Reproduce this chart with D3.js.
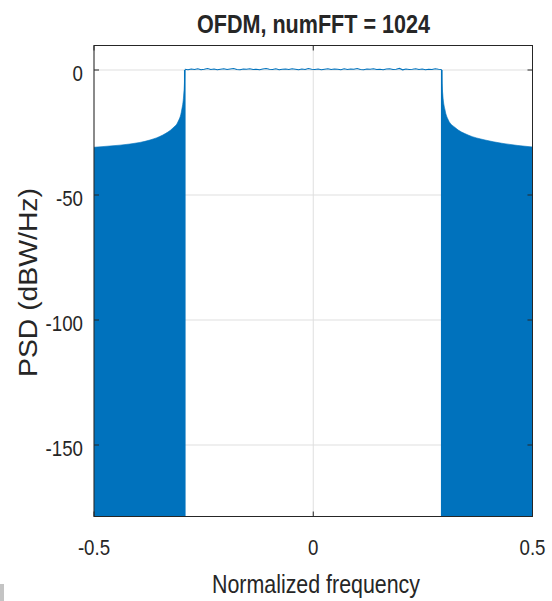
<!DOCTYPE html>
<html>
<head>
<meta charset="utf-8">
<script src="https://cdn.jsdelivr.net/npm/d3@7/dist/d3.min.js"></script>
<style>
  html, body { margin: 0; padding: 0; background: #fff; }
  svg { display: block; }
  text { font-family: "Liberation Sans", Arial, Helvetica, sans-serif; fill: #262626; }
</style>
</head>
<body>
<svg id="chart" width="552" height="601"></svg>
<script>
// ---------- data ----------
const titleText = "OFDM, numFFT = 1024";
const xLabelText = "Normalized frequency";
const yLabelText = "PSD (dBW/Hz)";

const xTicks = [-0.5, 0, 0.5];
const xTickLabels = ["-0.5", "0", "0.5"];
const yTicks = [0, -50, -100, -150];
const yTickLabels = ["0", "-50", "-100", "-150"];
const xDomain = [-0.5, 0.5];
const yDomain = [-178.6, 9.8];

// left out-of-band envelope (frequency, dB)
const leftFreq = [-0.5, -0.4636, -0.418, -0.3724, -0.343, -0.320, -0.3087, -0.300, -0.2955, -0.2935, -0.293];
const leftDb   = [-30.9, -30.4, -29.6, -28.0, -26.0, -23.2, -20.8, -16.0, -10.0, -4.0, 0];

// right out-of-band envelope (frequency, dB)
const rightFreq = [0.293, 0.2935, 0.2955, 0.3005, 0.308, 0.3233, 0.353, 0.3917, 0.4298, 0.5];
const rightDb   = [0, -4.0, -10.0, -16.0, -20.0, -23.0, -26.0, -28.0, -29.3, -30.8];

// occupied band edges and in-band PSD ripple (dB)
const bandEdges = [-0.293, 0.293];
const inbandDb = [0.3, 0.1, 0.4, 0.2, 0.5, 0.1, 0.3, 0.6, 0.2, 0.4,
                  0.1, 0.3, 0.5, 0.2, 0.4, 0.6, 0.2, 0.1, 0.4, 0.3,
                  0.5, 0.2, 0.3, 0.1, 0.4, 0.6, 0.3, 0.2, 0.5, 0.1,
                  0.3, 0.4, 0.2, 0.5, 0.3, 0.1, 0.4, 0.2, 0.6, 0.3,
                  0.2, 0.4, 0.1, 0.3, 0.5, 0.2, 0.4, 0.3, 0.1, 0.5,
                  0.2, 0.4, 0.3, 0.6, 0.2, 0.1, 0.4, 0.3, 0.5, 0.2,
                  0.3, 0.1, 0.4, 0.5, 0.2, 0.3, 0.6, 0.1, 0.4, 0.2,
                  0.3, 0.5, 0.2, 0.4, 0.1, 0.3, 0.2, 0.5, 0.3, 0.2];

// ---------- layout ----------
const plot = { left: 94, right: 532.5, top: 45.5, bottom: 516.5 };
const blue = "#0072BD";
const axisColor = "#262626";
const gridColor = "#dfdfdf";
const condense = 0.85;

const svg = d3.select("#chart");
const x = d3.scaleLinear().domain(xDomain).range([plot.left, plot.right]);
const y = d3.scaleLinear().domain(yDomain).range([plot.bottom, plot.top]);

function squeeze(sel, f) {
  sel.each(function () {
    const len = this.getComputedTextLength();
    d3.select(this).attr("textLength", len * f).attr("lengthAdjust", "spacingAndGlyphs");
  });
}

// grid
const grid = svg.append("g");
grid.selectAll("line.gx").data(xTicks).join("line")
  .attr("x1", d => x(d)).attr("x2", d => x(d))
  .attr("y1", plot.top).attr("y2", plot.bottom)
  .attr("stroke", gridColor).attr("stroke-width", 1);
grid.selectAll("line.gy").data(yTicks).join("line")
  .attr("x1", plot.left).attr("x2", plot.right)
  .attr("y1", d => y(d)).attr("y2", d => y(d))
  .attr("stroke", gridColor).attr("stroke-width", 1);

// data
const leftPts = leftFreq.map((f, i) => [f, leftDb[i]]);
const rightPts = rightFreq.map((f, i) => [f, rightDb[i]]);
const area = d3.area()
  .x(d => x(d[0])).y0(y(yDomain[0])).y1(d => y(d[1]))
  .curve(d3.curveMonotoneX);
const line = d3.line().x(d => x(d[0])).y(d => y(d[1])).curve(d3.curveMonotoneX);

const data = svg.append("g");
[leftPts, rightPts].forEach(pts => {
  data.append("path").attr("d", area(pts)).attr("fill", blue);
  data.append("path").attr("d", line(pts)).attr("fill", "none")
    .attr("stroke", blue).attr("stroke-width", 1).attr("stroke-opacity", 0.6);
});
// band-edge verticals
bandEdges.forEach(f => {
  data.append("line")
    .attr("x1", x(f)).attr("x2", x(f))
    .attr("y1", y(yDomain[0])).attr("y2", y(0))
    .attr("stroke", blue).attr("stroke-width", 1.6);
});
// in-band ripple
const step = (bandEdges[1] - bandEdges[0]) / (inbandDb.length - 1);
const inbandPts = inbandDb.map((v, i) => [bandEdges[0] + i * step, v]);
data.append("path")
  .attr("d", d3.line().x(d => x(d[0])).y(d => y(d[1]))(inbandPts))
  .attr("fill", "none").attr("stroke", blue).attr("stroke-width", 1.2);

// axes box
svg.append("rect")
  .attr("x", plot.left).attr("y", plot.top)
  .attr("width", plot.right - plot.left).attr("height", plot.bottom - plot.top)
  .attr("fill", "none").attr("stroke", axisColor).attr("stroke-width", 1);

// ticks (inward)
const tl = 5;
const tg = svg.append("g").attr("stroke", axisColor).attr("stroke-width", 1);
xTicks.forEach(t => {
  tg.append("line").attr("x1", x(t)).attr("x2", x(t)).attr("y1", plot.bottom).attr("y2", plot.bottom - tl);
  tg.append("line").attr("x1", x(t)).attr("x2", x(t)).attr("y1", plot.top).attr("y2", plot.top + tl);
});
yTicks.forEach(t => {
  tg.append("line").attr("x1", plot.left).attr("x2", plot.left + tl).attr("y1", y(t)).attr("y2", y(t));
  tg.append("line").attr("x1", plot.right).attr("x2", plot.right - tl).attr("y1", y(t)).attr("y2", y(t));
});

// tick labels
const xtl = svg.append("g").selectAll("text").data(xTicks).join("text")
  .attr("x", d => x(d)).attr("y", 555)
  .attr("text-anchor", "middle").attr("font-size", 22)
  .text((d, i) => xTickLabels[i]);
squeeze(xtl, condense);

const ytl = svg.append("g").selectAll("text").data(yTicks).join("text")
  .attr("x", 83).attr("y", d => y(d) + 10.5)
  .attr("text-anchor", "end").attr("font-size", 22)
  .text((d, i) => yTickLabels[i]);
squeeze(ytl, condense);

// title
svg.append("text")
  .attr("x", 313.5).attr("y", 33)
  .attr("text-anchor", "middle").attr("font-size", 25).attr("font-weight", "bold")
  .attr("fill", "#000")
  .attr("textLength", 233).attr("lengthAdjust", "spacingAndGlyphs")
  .text(titleText);

// x label
svg.append("text")
  .attr("x", 316).attr("y", 593)
  .attr("text-anchor", "middle").attr("font-size", 25)
  .attr("textLength", 208).attr("lengthAdjust", "spacingAndGlyphs")
  .text(xLabelText);

// y label
svg.append("text")
  .attr("transform", "translate(37,282.5) rotate(-90)")
  .attr("text-anchor", "middle").attr("font-size", 25)
  .attr("textLength", 189).attr("lengthAdjust", "spacingAndGlyphs")
  .text(yLabelText);

// small gray artifact at bottom-left edge of reference
svg.append("rect").attr("x", 0).attr("y", 584).attr("width", 4).attr("height", 17).attr("fill", "#c4c4c4");
</script>
</body>
</html>
